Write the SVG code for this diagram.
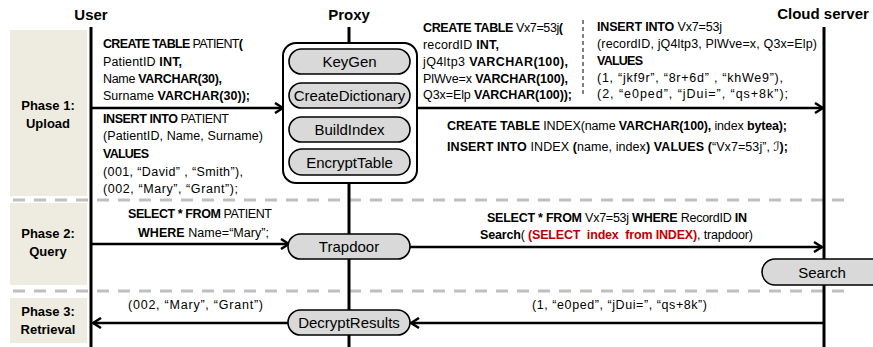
<svg xmlns="http://www.w3.org/2000/svg" width="873" height="347" viewBox="0 0 873 347">
<defs>
<style>
.hdr{font-family:"Liberation Sans",Arial,sans-serif;font-weight:bold;font-size:15px;fill:#000;text-anchor:middle}
.ph{font-family:"Liberation Sans",Arial,sans-serif;font-weight:bold;font-size:13px;fill:#000;text-anchor:middle}
.sql{font-family:"Liberation Sans",Arial,sans-serif;font-size:12.5px;fill:#000}
.b{font-weight:bold}
.red{fill:#C00000;font-weight:bold}
.pl{font-family:"Liberation Sans",Arial,sans-serif;font-size:15px;fill:#000;text-anchor:middle}
.phase{fill:#EEECE1}
.life{stroke:#000;stroke-width:3;fill:none}
.arr{stroke:#000;stroke-width:2.5;fill:none}
.dash{stroke:#BFBFBF;stroke-width:3;stroke-dasharray:12 9;fill:none}
.pill{fill:#D9D9D9;stroke:#000;stroke-width:1.6}
</style>
<marker id="ah" viewBox="0 0 10 12" refX="9" refY="6" markerWidth="10" markerHeight="12" markerUnits="userSpaceOnUse" orient="auto">
<path d="M1,1 L9,6 L1,11" fill="none" stroke="#000" stroke-width="2.5"/>
</marker>
</defs>

<g id="phases">
<rect class="phase" x="10" y="30" width="77" height="166"/>
<rect class="phase" x="10" y="203" width="77" height="82"/>
<rect class="phase" x="10" y="298" width="77" height="45"/>
<text class="ph" x="48" y="110">Phase 1:</text>
<text class="ph" x="48" y="128">Upload</text>
<text class="ph" x="48" y="238">Phase 2:</text>
<text class="ph" x="48" y="256">Query</text>
<text class="ph" x="48" y="316">Phase 3:</text>
<text class="ph" x="48" y="334">Retrieval</text>
</g>

<g id="separators">
<line class="dash" x1="13" y1="200" x2="852" y2="200"/>
<line class="dash" x1="13" y1="291" x2="852" y2="291"/>
<line x1="583" y1="20" x2="583" y2="97" stroke="#000" stroke-width="1" stroke-dasharray="4 3"/>
</g>

<g id="lifelines">
<text class="hdr" x="91" y="20">User</text>
<text class="hdr" x="349" y="20">Proxy</text>
<text class="hdr" x="823" y="19">Cloud server</text>
<line class="life" x1="91" y1="27" x2="91" y2="347"/>
<line class="life" x1="349" y1="27" x2="349" y2="347"/>
<line class="life" x1="824" y1="27" x2="824" y2="347"/>
</g>

<g id="connectors">
<line class="arr" x1="92" y1="108" x2="283" y2="108" marker-end="url(#ah)"/>
<line class="arr" x1="417" y1="108" x2="823" y2="108" marker-end="url(#ah)"/>
<line class="arr" x1="92" y1="244" x2="289" y2="244" marker-end="url(#ah)"/>
<line class="arr" x1="410" y1="247" x2="822" y2="247" marker-end="url(#ah)"/>
<line class="arr" x1="823" y1="323" x2="411" y2="323" marker-end="url(#ah)"/>
<line class="arr" x1="288" y1="323" x2="93" y2="323" marker-end="url(#ah)"/>
</g>

<g id="proxy">
<rect x="283" y="43" width="134" height="140" rx="13" fill="#fff" stroke="#000" stroke-width="2"/>
<g id="keygen"><rect class="pill" x="289" y="49" width="121" height="25" rx="12.5"/><text class="pl" x="349.5" y="67">KeyGen</text></g>
<g id="createdictionary"><rect class="pill" x="289" y="83" width="121" height="25" rx="12.5"/><text class="pl" x="349.5" y="101">CreateDictionary</text></g>
<g id="buildindex"><rect class="pill" x="289" y="117" width="121" height="25" rx="12.5"/><text class="pl" x="349.5" y="135">BuildIndex</text></g>
<g id="encrypttable"><rect class="pill" x="289" y="149" width="121" height="26" rx="13"/><text class="pl" x="349.5" y="168">EncryptTable</text></g>
</g>

<g id="trapdoor"><rect class="pill" x="288" y="234" width="122" height="25" rx="12.5"/><text class="pl" x="349" y="252">Trapdoor</text></g>
<g id="decryptresults"><rect class="pill" x="288" y="310" width="122" height="25" rx="12.5"/><text class="pl" x="349" y="328">DecryptResults</text></g>
<g id="search"><rect class="pill" x="762" y="259" width="140" height="26" rx="13"/><text class="pl" x="822" y="278">Search</text></g>

<g id="labels">
<text class="sql" x="103" y="48" textLength="140" lengthAdjust="spacing"><tspan class="b">CREATE TABLE </tspan>PATIENT<tspan class="b">(</tspan></text>
<text class="sql" x="103" y="66" textLength="79" lengthAdjust="spacing">PatientID <tspan class="b">INT,</tspan></text>
<text class="sql" x="103" y="83" textLength="119" lengthAdjust="spacing">Name <tspan class="b">VARCHAR(30),</tspan></text>
<text class="sql" x="103" y="100" textLength="147" lengthAdjust="spacing">Surname <tspan class="b">VARCHAR(30));</tspan></text>
<text class="sql" x="103" y="123" textLength="126" lengthAdjust="spacing"><tspan class="b">INSERT INTO </tspan>PATIENT</text>
<text class="sql" x="103" y="140" textLength="160" lengthAdjust="spacing">(PatientID, Name, Surname)</text>
<text class="sql b" x="103" y="158" textLength="46" lengthAdjust="spacing">VALUES</text>
<text class="sql" x="103" y="176" textLength="140" lengthAdjust="spacing">(001, “David” , “Smith”),</text>
<text class="sql" x="103" y="193" textLength="135" lengthAdjust="spacing">(002, “Mary”, “Grant”);</text>

<text class="sql" x="423" y="32" textLength="140" lengthAdjust="spacing"><tspan class="b">CREATE TABLE </tspan>Vx7=53j<tspan class="b">(</tspan></text>
<text class="sql" x="423" y="49" textLength="76" lengthAdjust="spacing">recordID <tspan class="b">INT,</tspan></text>
<text class="sql" x="423" y="66" textLength="145" lengthAdjust="spacing">jQ4ltp3 <tspan class="b">VARCHAR(100),</tspan></text>
<text class="sql" x="423" y="83" textLength="145" lengthAdjust="spacing">PlWve=x <tspan class="b">VARCHAR(100),</tspan></text>
<text class="sql" x="423" y="99" textLength="149" lengthAdjust="spacing">Q3x=Elp <tspan class="b">VARCHAR(100));</tspan></text>

<text class="sql" x="597" y="31" textLength="125" lengthAdjust="spacing"><tspan class="b">INSERT INTO </tspan>Vx7=53j</text>
<text class="sql" x="597" y="48" textLength="220" lengthAdjust="spacing">(recordID, jQ4ltp3, PlWve=x, Q3x=Elp)</text>
<text class="sql b" x="597" y="65" textLength="46" lengthAdjust="spacing">VALUES</text>
<text class="sql" x="597" y="82" textLength="186" lengthAdjust="spacing">(1, “jkf9r”, “8r+6d” , “khWe9”),</text>
<text class="sql" x="597" y="98" textLength="191" lengthAdjust="spacing">(2, “e0ped”, “jDui=”, “qs+8k”);</text>

<text class="sql" x="447" y="130" textLength="340" lengthAdjust="spacing"><tspan class="b">CREATE TABLE </tspan>INDEX(name <tspan class="b">VARCHAR(100),</tspan> index <tspan class="b">bytea);</tspan></text>
<text class="sql" x="447" y="151" textLength="341" lengthAdjust="spacing"><tspan class="b">INSERT INTO </tspan>INDEX <tspan class="b">(</tspan>name, index<tspan class="b">) VALUES (</tspan>“Vx7=53j”, <tspan font-family="DejaVu Sans,sans-serif">ℐ</tspan><tspan class="b">);</tspan></text>

<text class="sql" x="128" y="218" textLength="144" lengthAdjust="spacing"><tspan class="b">SELECT * FROM </tspan>PATIENT</text>
<text class="sql" x="138" y="237" textLength="131" lengthAdjust="spacing"><tspan class="b">WHERE </tspan>Name=“Mary”;</text>
<text class="sql" x="487" y="222" textLength="260" lengthAdjust="spacing"><tspan class="b">SELECT * FROM </tspan>Vx7=53j <tspan class="b">WHERE </tspan>RecordID <tspan class="b">IN</tspan></text>
<text class="sql" x="480" y="239" textLength="273" lengthAdjust="spacing"><tspan class="b">Search</tspan>( <tspan class="red">(SELECT&#160; index&#160; from INDEX)</tspan>, trapdoor)</text>

<text class="sql" x="128" y="309" textLength="135" lengthAdjust="spacing">(002, “Mary”, “Grant”)</text>
<text class="sql" x="532" y="309" textLength="175" lengthAdjust="spacing">(1, “e0ped”, “jDui=”, “qs+8k”)</text>
</g>
</svg>
